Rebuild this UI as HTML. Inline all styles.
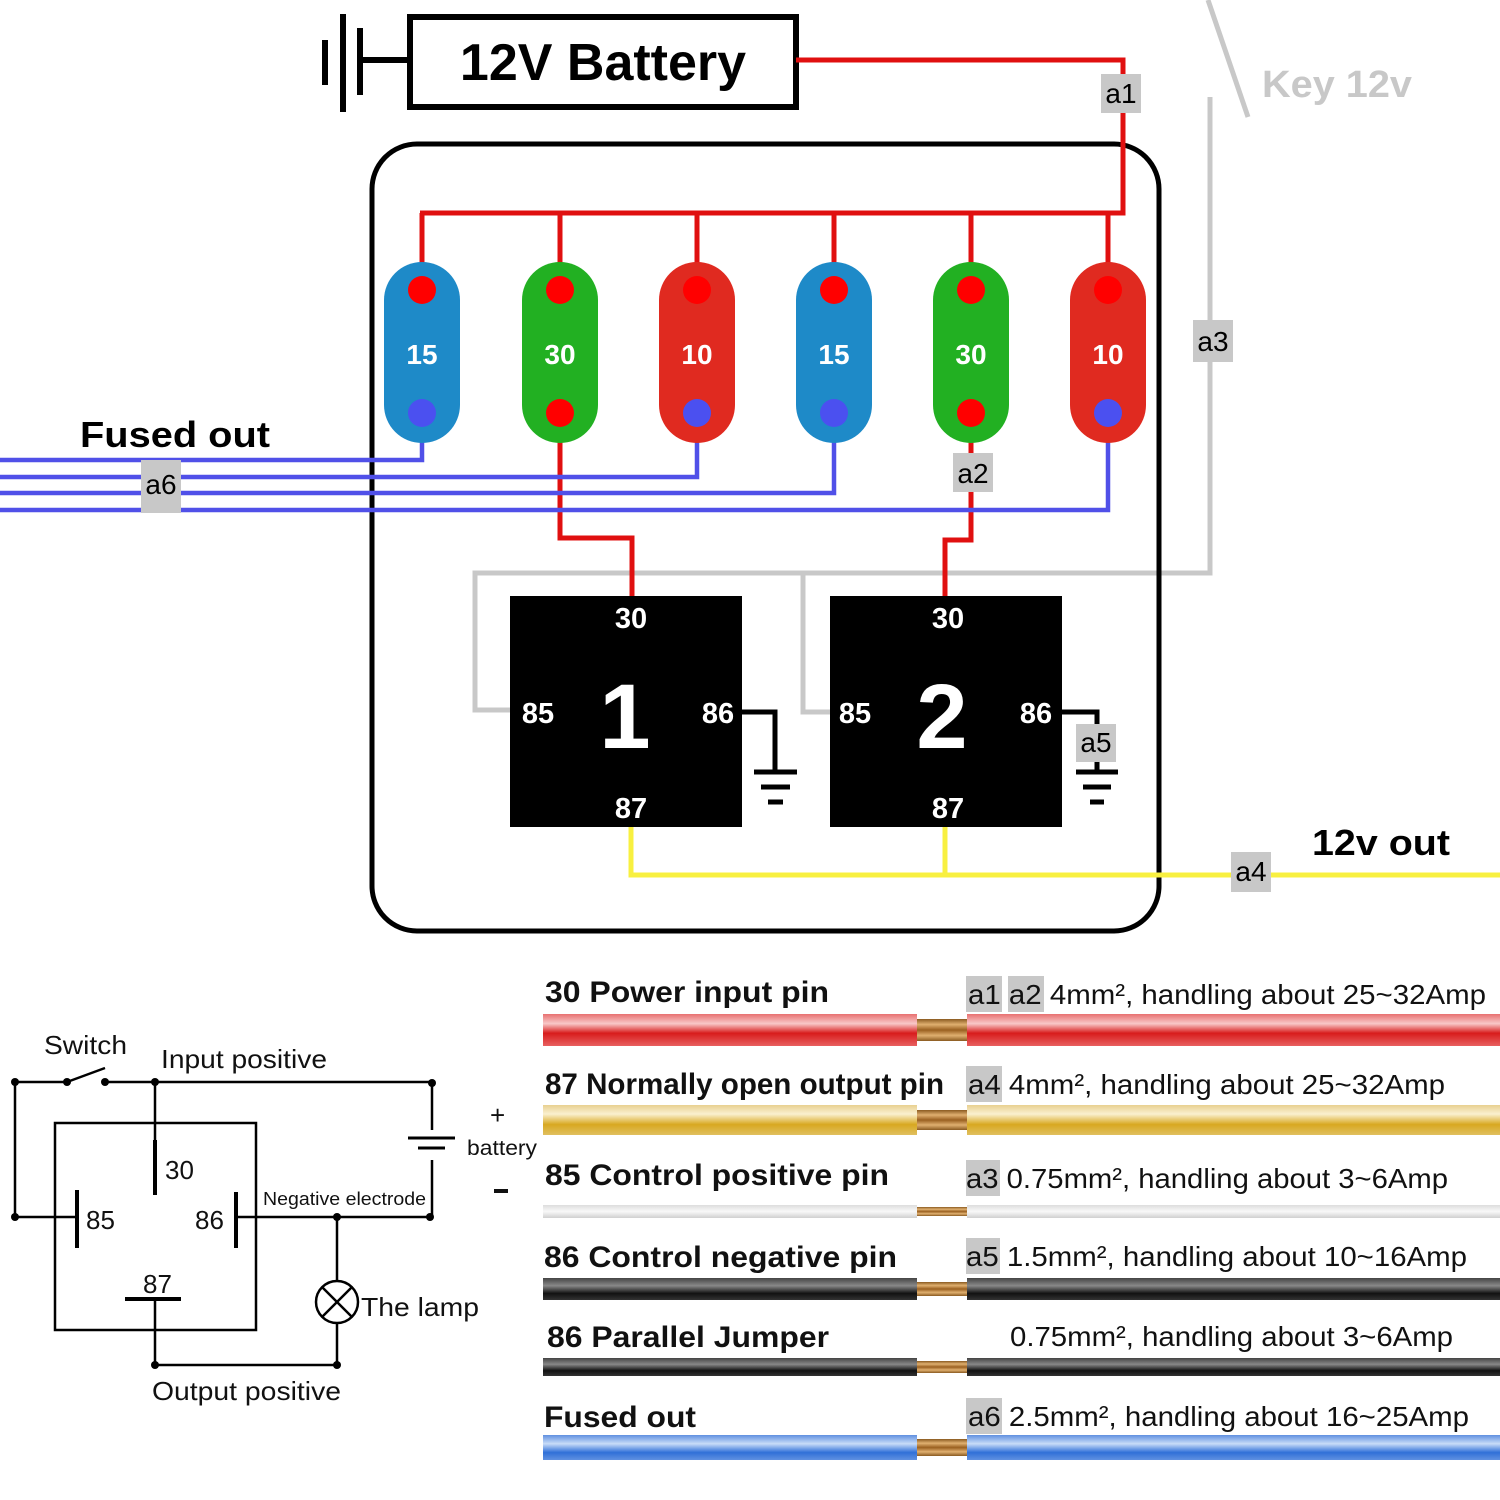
<!DOCTYPE html>
<html><head><meta charset="utf-8"><style>
html,body{margin:0;padding:0;background:#fff}
svg{display:block;font-family:"Liberation Sans",sans-serif}
</style></head><body>
<svg width="1500" height="1500" viewBox="0 0 1500 1500" xmlns="http://www.w3.org/2000/svg">
<defs>
<linearGradient id="gr" x1="0" y1="0" x2="0" y2="1"><stop offset="0" stop-color="#e87070"/><stop offset="0.3" stop-color="#f8c8c8"/><stop offset="0.6" stop-color="#d81c1c"/><stop offset="1" stop-color="#e86060"/></linearGradient>
<linearGradient id="gy" x1="0" y1="0" x2="0" y2="1"><stop offset="0" stop-color="#e8d090"/><stop offset="0.3" stop-color="#faf0d0"/><stop offset="0.65" stop-color="#d8a820"/><stop offset="1" stop-color="#e0c060"/></linearGradient>
<linearGradient id="gw" x1="0" y1="0" x2="0" y2="1"><stop offset="0" stop-color="#ddd"/><stop offset="0.5" stop-color="#f8f8f8"/><stop offset="1" stop-color="#d0d0d0"/></linearGradient>
<linearGradient id="gk" x1="0" y1="0" x2="0" y2="1"><stop offset="0" stop-color="#444"/><stop offset="0.35" stop-color="#888"/><stop offset="0.7" stop-color="#111"/><stop offset="1" stop-color="#333"/></linearGradient>
<linearGradient id="gb" x1="0" y1="0" x2="0" y2="1"><stop offset="0" stop-color="#6090e0"/><stop offset="0.35" stop-color="#c8dcf8"/><stop offset="0.7" stop-color="#3070d8"/><stop offset="1" stop-color="#6090e0"/></linearGradient>
<linearGradient id="gc" x1="0" y1="0" x2="0" y2="1"><stop offset="0" stop-color="#8a5a20"/><stop offset="0.25" stop-color="#e0b070"/><stop offset="0.5" stop-color="#9a6020"/><stop offset="0.75" stop-color="#e0b070"/><stop offset="1" stop-color="#8a5a20"/></linearGradient>
</defs>

<g stroke="#000" stroke-width="6">
<line x1="325" y1="40" x2="325" y2="85"/><line x1="343" y1="14" x2="343" y2="112"/><line x1="360" y1="28" x2="360" y2="95"/>
<line x1="360" y1="60" x2="410" y2="60"/>
</g>
<rect x="410" y="17" width="386" height="90" fill="#fff" stroke="#000" stroke-width="6"/>
<text x="603" y="80" font-size="52" font-weight="bold" text-anchor="middle">12V Battery</text>

<g stroke="#c8c8c8" stroke-width="5" fill="none">
<line x1="1208" y1="0" x2="1248" y2="117"/>
<polyline points="1210,97 1210,573 475,573 475,710 512,710"/>
<polyline points="803,573 803,712 832,712"/>
</g>
<text x="1262" y="97" font-size="38" font-weight="bold" fill="#c8c8c8" textLength="150" lengthAdjust="spacingAndGlyphs">Key 12v</text>

<rect x="372" y="144" width="787" height="787" rx="45" fill="none" stroke="#000" stroke-width="5"/>

<g stroke="#e01010" stroke-width="5" fill="none">
<polyline points="796,60 1123,60 1123,213 420,213"/>
<line x1="422" y1="213" x2="422" y2="265"/><line x1="560" y1="213" x2="560" y2="265"/><line x1="697" y1="213" x2="697" y2="265"/>
<line x1="834" y1="213" x2="834" y2="265"/><line x1="971" y1="213" x2="971" y2="265"/><line x1="1108" y1="213" x2="1108" y2="265"/>
<polyline points="560,440 560,538 632,538 632,598"/>
<polyline points="971,440 971,540 945,540 945,598"/>
</g>
<g stroke="#5050e8" stroke-width="4.5" fill="none">
<polyline points="422,440 422,460 0,460"/>
<polyline points="697,440 697,477 0,477"/>
<polyline points="834,440 834,493 0,493"/>
<polyline points="1108,440 1108,510 0,510"/>
</g>
<g stroke="#f8f040" stroke-width="5" fill="none">
<polyline points="631,827 631,875 1500,875"/>
<line x1="945" y1="827" x2="945" y2="875"/>
</g>

<g font-size="28" font-weight="bold" fill="#fff" text-anchor="middle">
<rect x="384" y="262" width="76" height="181" rx="38" fill="#1e8ac8"/>
<rect x="522" y="262" width="76" height="181" rx="38" fill="#22b022"/>
<rect x="659" y="262" width="76" height="181" rx="38" fill="#e02a20"/>
<rect x="796" y="262" width="76" height="181" rx="38" fill="#1e8ac8"/>
<rect x="933" y="262" width="76" height="181" rx="38" fill="#22b022"/>
<rect x="1070" y="262" width="76" height="181" rx="38" fill="#e02a20"/>
<text x="422" y="364">15</text><text x="560" y="364">30</text><text x="697" y="364">10</text>
<text x="834" y="364">15</text><text x="971" y="364">30</text><text x="1108" y="364">10</text>
</g>
<g fill="#ff0000">
<circle cx="422" cy="290" r="14"/><circle cx="560" cy="290" r="14"/><circle cx="697" cy="290" r="14"/>
<circle cx="834" cy="290" r="14"/><circle cx="971" cy="290" r="14"/><circle cx="1108" cy="290" r="14"/>
<circle cx="560" cy="413" r="14"/><circle cx="971" cy="413" r="14"/>
</g>
<g fill="#4b50f0">
<circle cx="422" cy="413" r="14"/><circle cx="697" cy="413" r="14"/><circle cx="834" cy="413" r="14"/><circle cx="1108" cy="413" r="14"/>
</g>

<rect x="510" y="596" width="232" height="231" fill="#000"/>
<rect x="830" y="596" width="232" height="231" fill="#000"/>
<g fill="#fff" font-weight="bold" font-size="29" text-anchor="middle">
<text x="631" y="628">30</text><text x="538" y="723">85</text><text x="718" y="723">86</text><text x="631" y="818">87</text>
<text x="948" y="628">30</text><text x="855" y="723">85</text><text x="1036" y="723">86</text><text x="948" y="818">87</text>
<text x="625" y="748" font-size="92">1</text><text x="942" y="748" font-size="92">2</text>
</g>
<g stroke="#000" stroke-width="5" fill="none">
<polyline points="742,712 775,712 775,772"/>
<line x1="754" y1="772" x2="797" y2="772"/><line x1="761" y1="787" x2="790" y2="787"/><line x1="768" y1="802" x2="783" y2="802"/>
<polyline points="1062,712 1097,712 1097,772"/>
<line x1="1076" y1="772" x2="1118" y2="772"/><line x1="1083" y1="787" x2="1111" y2="787"/><line x1="1090" y1="802" x2="1104" y2="802"/>
</g>

<g font-size="28" text-anchor="middle">
<rect x="1101" y="74" width="40" height="39" fill="#c8c8c8"/><text x="1121" y="103">a1</text>
<rect x="953" y="453" width="40" height="39" fill="#c8c8c8"/><text x="973" y="483">a2</text>
<rect x="1193" y="320" width="40" height="42" fill="#c8c8c8"/><text x="1213" y="351">a3</text>
<rect x="1231" y="852" width="40" height="40" fill="#c8c8c8"/><text x="1251" y="881">a4</text>
<rect x="1076" y="724" width="40" height="38" fill="#c8c8c8"/><text x="1096" y="752">a5</text>
<rect x="141" y="460" width="40" height="53" fill="#c8c8c8"/><text x="161" y="494">a6</text>
</g>
<text x="80" y="447" font-size="36" font-weight="bold" textLength="190" lengthAdjust="spacingAndGlyphs">Fused out</text>
<text x="1312" y="855" font-size="36" font-weight="bold" textLength="138" lengthAdjust="spacingAndGlyphs">12v out</text>

<g stroke="#000" stroke-width="2.5" fill="none">
<line x1="15" y1="1082" x2="67" y2="1082"/><line x1="67" y1="1082" x2="105" y2="1068"/>
<line x1="105" y1="1082" x2="432" y2="1082"/>
<line x1="15" y1="1082" x2="15" y2="1217"/><line x1="15" y1="1217" x2="77" y2="1217"/>
<rect x="55" y="1123" width="201" height="207"/>
<line x1="155" y1="1082" x2="155" y2="1140"/>
<line x1="155" y1="1140" x2="155" y2="1195" stroke-width="4"/>
<line x1="77" y1="1190" x2="77" y2="1248" stroke-width="4"/>
<line x1="236" y1="1192" x2="236" y2="1248" stroke-width="4"/>
<line x1="236" y1="1217" x2="432" y2="1217"/>
<line x1="432" y1="1082" x2="432" y2="1130"/>
<line x1="408" y1="1138" x2="455" y2="1138" stroke-width="3"/><line x1="418" y1="1148" x2="445" y2="1148" stroke-width="3"/>
<line x1="432" y1="1160" x2="432" y2="1217"/>
<line x1="337" y1="1217" x2="337" y2="1281"/><line x1="337" y1="1323" x2="337" y2="1365"/>
<circle cx="337" cy="1302" r="21"/>
<line x1="322" y1="1287" x2="352" y2="1317"/><line x1="352" y1="1287" x2="322" y2="1317"/>
<line x1="125" y1="1299" x2="181" y2="1299" stroke-width="4"/>
<line x1="155" y1="1299" x2="155" y2="1365"/><line x1="155" y1="1365" x2="337" y2="1365"/>
</g>
<g fill="#000">
<circle cx="15" cy="1082" r="4"/><circle cx="67" cy="1082" r="4"/><circle cx="105" cy="1082" r="4"/><circle cx="155" cy="1082" r="4"/><circle cx="432" cy="1083" r="4"/>
<circle cx="15" cy="1217" r="4"/><circle cx="337" cy="1217" r="4"/><circle cx="430" cy="1217" r="4"/>
<circle cx="155" cy="1365" r="4"/><circle cx="337" cy="1365" r="4"/>
</g>
<g font-size="26" fill="#111">
<text x="44" y="1054" textLength="83" lengthAdjust="spacingAndGlyphs">Switch</text>
<text x="161" y="1068" textLength="166" lengthAdjust="spacingAndGlyphs">Input positive</text>
<text x="165" y="1179">30</text><text x="86" y="1229">85</text><text x="195" y="1229">86</text><text x="143" y="1293">87</text>
<text x="263" y="1205" font-size="18" textLength="163" lengthAdjust="spacingAndGlyphs">Negative electrode</text>
<text x="361" y="1316" textLength="118" lengthAdjust="spacingAndGlyphs">The lamp</text>
<text x="152" y="1400" textLength="189" lengthAdjust="spacingAndGlyphs">Output positive</text>
<text x="490" y="1124">+</text><text x="467" y="1155" font-size="21" textLength="70" lengthAdjust="spacingAndGlyphs">battery</text>
<rect x="494" y="1189" width="14" height="4" fill="#111"/>
</g>

<rect x="543" y="1014" width="374" height="32" fill="url(#gr)"/><rect x="917" y="1019" width="50" height="22" fill="url(#gc)"/><rect x="967" y="1014" width="533" height="32" fill="url(#gr)"/>
<rect x="543" y="1105" width="374" height="30" fill="url(#gy)"/><rect x="917" y="1110" width="50" height="20" fill="url(#gc)"/><rect x="967" y="1105" width="533" height="30" fill="url(#gy)"/>
<rect x="543" y="1205" width="374" height="13" fill="url(#gw)"/><rect x="917" y="1207" width="50" height="9" fill="url(#gc)"/><rect x="967" y="1205" width="533" height="13" fill="url(#gw)"/>
<rect x="543" y="1278" width="374" height="22" fill="url(#gk)"/><rect x="917" y="1282" width="50" height="14" fill="url(#gc)"/><rect x="967" y="1278" width="533" height="22" fill="url(#gk)"/>
<rect x="543" y="1358" width="374" height="18" fill="url(#gk)"/><rect x="917" y="1361" width="50" height="12" fill="url(#gc)"/><rect x="967" y="1358" width="533" height="18" fill="url(#gk)"/>
<rect x="543" y="1435" width="374" height="25" fill="url(#gb)"/><rect x="917" y="1439" width="50" height="17" fill="url(#gc)"/><rect x="967" y="1435" width="533" height="25" fill="url(#gb)"/>

<g font-size="30" font-weight="bold" fill="#111">
<text x="545" y="1002" textLength="284" lengthAdjust="spacingAndGlyphs">30 Power input pin</text>
<text x="545" y="1094" textLength="399" lengthAdjust="spacingAndGlyphs">87 Normally open output pin</text>
<text x="545" y="1185" textLength="344" lengthAdjust="spacingAndGlyphs">85 Control positive pin</text>
<text x="544" y="1267" textLength="353" lengthAdjust="spacingAndGlyphs">86 Control negative pin</text>
<text x="547" y="1347" textLength="282" lengthAdjust="spacingAndGlyphs">86 Parallel Jumper</text>
<text x="544" y="1427" textLength="152" lengthAdjust="spacingAndGlyphs">Fused out</text>
</g>
<g fill="#c8c8c8">
<rect x="966" y="976" width="36" height="36"/><rect x="1008" y="976" width="36" height="36"/>
<rect x="966" y="1066" width="36" height="36"/><rect x="966" y="1160" width="34" height="36"/>
<rect x="966" y="1238" width="34" height="36"/><rect x="966" y="1398" width="36" height="36"/>
</g>
<g font-size="28" fill="#111">
<text x="968" y="1004" textLength="518" lengthAdjust="spacingAndGlyphs">a1 a2 4mm², handling about 25~32Amp</text>
<text x="968" y="1094" textLength="477" lengthAdjust="spacingAndGlyphs">a4 4mm², handling about 25~32Amp</text>
<text x="966" y="1188" textLength="482" lengthAdjust="spacingAndGlyphs">a3 0.75mm², handling about 3~6Amp</text>
<text x="966" y="1266" textLength="501" lengthAdjust="spacingAndGlyphs">a5 1.5mm², handling about 10~16Amp</text>
<text x="1010" y="1346" textLength="443" lengthAdjust="spacingAndGlyphs">0.75mm², handling about 3~6Amp</text>
<text x="968" y="1426" textLength="501" lengthAdjust="spacingAndGlyphs">a6 2.5mm², handling about 16~25Amp</text>
</g>
</svg>
</body></html>
